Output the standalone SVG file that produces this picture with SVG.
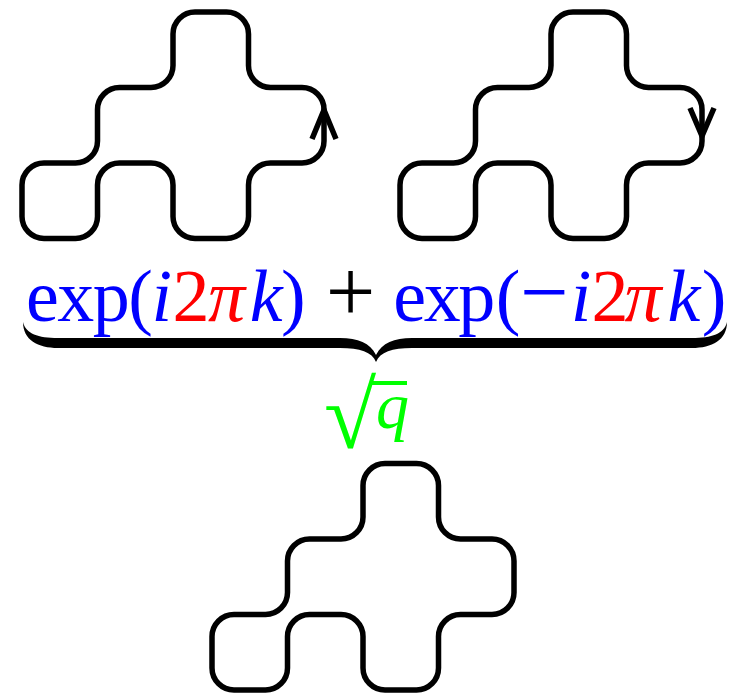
<svg xmlns="http://www.w3.org/2000/svg" width="735" height="695" viewBox="0 0 735 695">
<style>
.blob{fill:none;stroke:#000;stroke-width:5.5;stroke-linejoin:round;stroke-linecap:round}
.arr{fill:none;stroke:#000;stroke-width:5.5;stroke-linecap:butt;stroke-linejoin:miter}
.t{font-family:"Liberation Serif","Times New Roman",serif;font-size:74px}
.it{font-style:italic}
.b{fill:#0000ff}.r{fill:#ff0000}.k{fill:#000}.g{fill:#00ff00}
</style>
<defs>
<path id="blob" d="M 0,173 A 22,22 0 0 1 22,151 L 53.5,151 A 22,22 0 0 0 75.5,129 L 75.5,97.5 A 22,22 0 0 1 97.5,75.5 L 129,75.5 A 22,22 0 0 0 151,53.5 L 151,22 A 22,22 0 0 1 173,0 L 204.5,0 A 22,22 0 0 1 226.5,22 L 226.5,53.5 A 22,22 0 0 0 248.5,75.5 L 280,75.5 A 22,22 0 0 1 302,97.5 L 302,129 A 22,22 0 0 1 280,151 L 248.5,151 A 22,22 0 0 0 226.5,173 L 226.5,204.5 A 22,22 0 0 1 204.5,226.5 L 173,226.5 A 22,22 0 0 1 151,204.5 L 151,173 A 22,22 0 0 0 129,151 L 97.5,151 A 22,22 0 0 0 75.5,173 L 75.5,204.5 A 22,22 0 0 1 53.5,226.5 L 22,226.5 A 22,22 0 0 1 0,204.5 Z"/>
</defs>
<rect width="735" height="695" fill="#fff"/>
<g id="loop-up">
<use href="#blob" class="blob" transform="translate(22,12)"/>
<polyline class="arr" points="312,139 324,110 336,139"/>
</g>
<g id="loop-down">
<use href="#blob" class="blob" transform="translate(400,12)"/>
<polyline class="arr" points="690,108 702,136 714,108"/>
</g>
<g id="loop-plain">
<use href="#blob" class="blob" transform="translate(212,463.5)"/>
</g>
<g id="formula">
<text class="t" x="26" y="321"><tspan class="b" letter-spacing="-1.5">exp(</tspan><tspan class="b it" letter-spacing="-1.5">i</tspan><tspan class="r" dx="2" letter-spacing="-1.5">2</tspan><tspan class="r it" letter-spacing="-1.5">π</tspan><tspan class="b it" dx="6" letter-spacing="-1.5">k</tspan><tspan class="b">)</tspan><tspan class="k" dx="20" style="font-size:88px">+</tspan><tspan class="b" dx="18" letter-spacing="-2.5">exp</tspan><tspan class="b" dx="3">(</tspan><tspan class="b" style="font-size:86px">−</tspan><tspan class="b it" dx="2">i</tspan><tspan class="r" letter-spacing="-4">2</tspan><tspan class="r it">π</tspan><tspan class="b it" dx="6" letter-spacing="-1.5">k</tspan><tspan class="b" dx="3">)</tspan></text>
</g>
<g id="brace">
<path fill="#000" d="M 23,322 C 23,340 38,348 58,348 L 340,348 C 360,348 372,352 376,362 C 380,352 392,348 412,348 L 692,348 C 712,348 727,340 727,322 C 724,334 712,338 692,338 L 412,338 C 394,338 382,343 376,355 C 370,343 358,338 340,338 L 58,338 C 38,338 26,334 23,322 Z"/>
</g>
<g id="sqrt-q">
<text class="t g" x="350" y="448" text-anchor="middle" style="font-size:95px">√</text>
<rect x="372" y="381" width="35" height="4" class="g"/>
<text class="t g it" x="376" y="428" style="font-size:66px">q</text>
</g>
</svg>
